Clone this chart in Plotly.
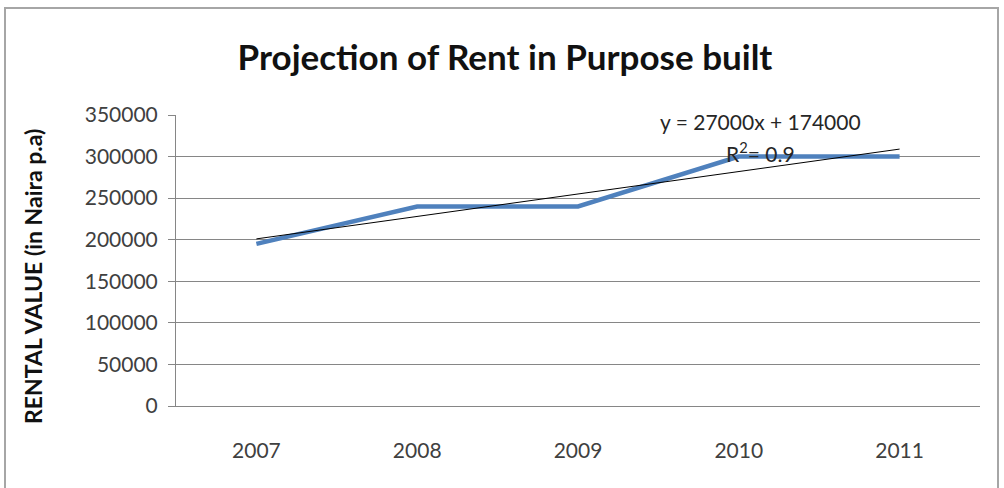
import plotly.graph_objects as go

# Rental values (Naira per annum) by year
years = ["2007", "2008", "2009", "2010", "2011"]
rent = [195000, 240000, 240000, 300000, 300000]

# Linear trend y = a*x + b, x = 1..5
trend_slope = 27000
trend_intercept = 174000
trend_r2 = 0.9

y_ticks = [0, 50000, 100000, 150000, 200000, 250000, 300000, 350000]

trend_vals = [trend_slope * (i + 1) + trend_intercept for i in range(len(years))]

W, H = 1004, 488
L, R, T, B = 176, 24, 115, 82
plot_w = W - L - R
plot_h = H - T - B


def px_to_paper_x(px):
    return (px - L) / plot_w


def px_to_paper_y(py):
    return (H - B - py) / plot_h


fig = go.Figure()
fig.add_trace(go.Scatter(
    x=years, y=rent, mode="lines",
    line=dict(color="#4F81BD", width=4.5),
    showlegend=False, hoverinfo="x+y",
))
fig.add_trace(go.Scatter(
    x=years, y=trend_vals, mode="lines",
    line=dict(color="#000000", width=1),
    showlegend=False, hoverinfo="skip",
))

tick_font = dict(family="Lato, sans-serif", size=21, color="#404040")

fig.update_layout(
    width=W, height=H,
    margin=dict(l=L, r=R, t=T, b=B, pad=0),
    paper_bgcolor="white", plot_bgcolor="white",
    title=dict(
        text="Projection of Rent in Purpose built",
        font=dict(family="Lato, sans-serif", size=35, color="#111111", weight="bold"),
        x=px_to_paper_x(505), xref="paper", xanchor="center",
        y=1 - 58 / H, yref="container", yanchor="middle",
    ),
    xaxis=dict(
        type="category", range=[-0.5, 4.5],
        showgrid=False, zeroline=False,
        showline=True, linecolor="#868686", linewidth=1,
        ticks="", tickfont=tick_font, ticklabelstandoff=26,
    ),
    yaxis=dict(
        range=[0, 350000], tickvals=y_ticks,
        ticktext=[str(v) for v in y_ticks],
        showgrid=True, gridcolor="#868686", gridwidth=1,
        zeroline=False,
        showline=True, linecolor="#868686", linewidth=1,
        ticks="outside", ticklen=7, tickcolor="#868686",
        tickfont=tick_font, ticklabelstandoff=6,
    ),
)

# Vertical axis title
fig.add_annotation(
    text="RENTAL VALUE (in Naira p.a)",
    xref="paper", yref="paper",
    x=px_to_paper_x(33), y=px_to_paper_y(277),
    xanchor="center", yanchor="middle", textangle=-90,
    showarrow=False,
    font=dict(family="Lato, sans-serif", size=23, color="#111111", weight="bold"),
)

# Trendline equation and R-squared
fig.add_annotation(
    text=f"y = {trend_slope}x + {trend_intercept}",
    xref="paper", yref="paper",
    x=px_to_paper_x(760), y=px_to_paper_y(121),
    xanchor="center", yanchor="middle",
    showarrow=False, font=dict(family="Lato, sans-serif", size=21, color="#262626"),
)
fig.add_annotation(
    text=f"R<sup>2</sup>= {trend_r2}",
    xref="paper", yref="paper",
    x=px_to_paper_x(760), y=px_to_paper_y(152),
    xanchor="center", yanchor="middle",
    showarrow=False, font=dict(family="Lato, sans-serif", size=21, color="#262626"),
)

# Outer chart frame
fig.add_shape(
    type="rect", xref="paper", yref="paper",
    x0=px_to_paper_x(5), x1=px_to_paper_x(998),
    y0=px_to_paper_y(500), y1=px_to_paper_y(8),
    line=dict(color="#A6A6A6", width=2), fillcolor="rgba(0,0,0,0)",
    layer="below",
)

fig.write_html("out.html")
